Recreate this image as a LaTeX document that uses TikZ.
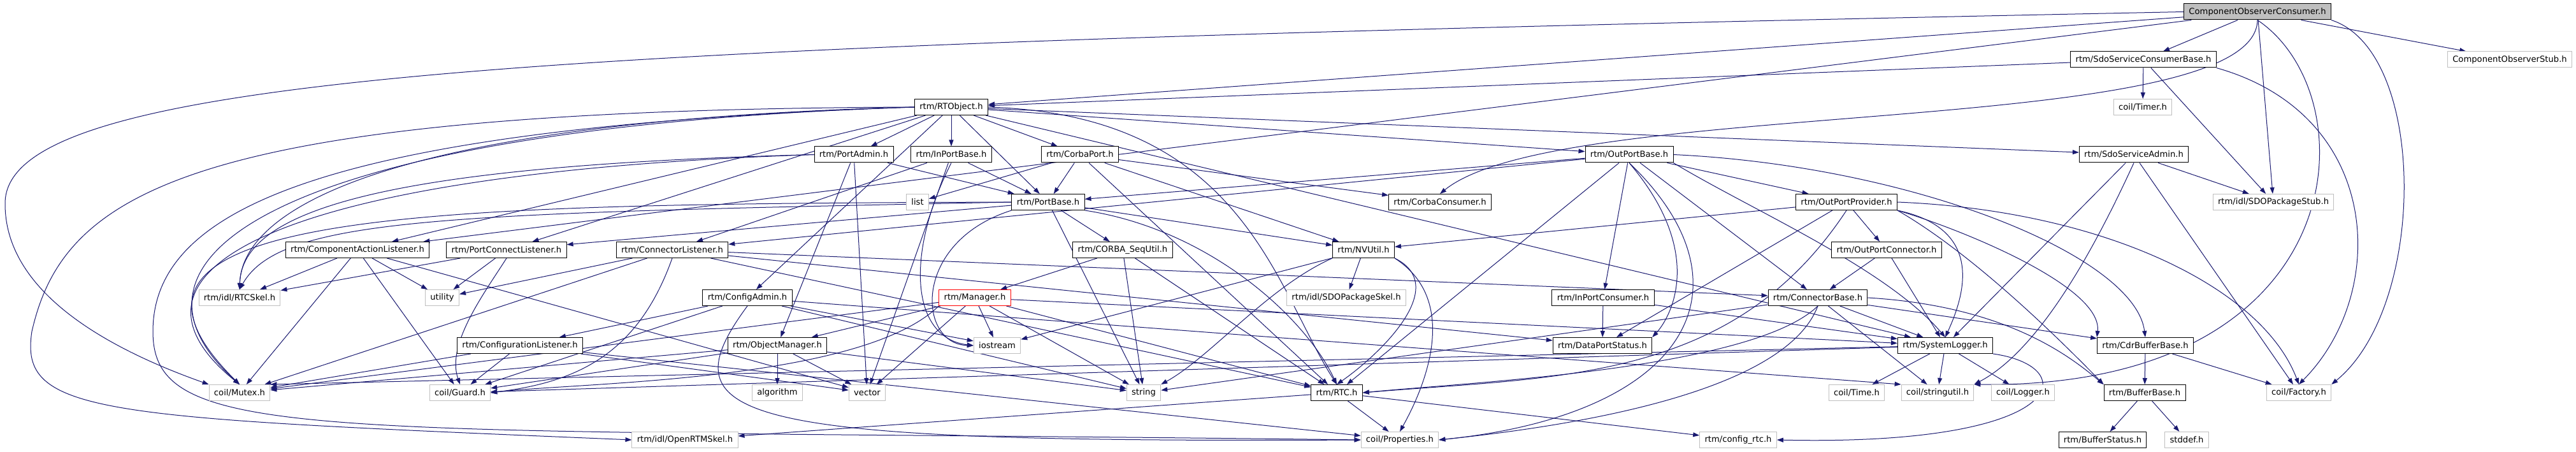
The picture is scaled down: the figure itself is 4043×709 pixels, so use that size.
\documentclass[tikz,border=0pt]{standalone}
\usepackage{fontspec}
\setmainfont{DejaVu Sans}
\usetikzlibrary{arrows.meta,backgrounds}

\definecolor{edgeblue}{HTML}{191970}
\definecolor{extgray}{HTML}{BFBFBF}

\tikzset{
  hdr/.style={draw=black, fill=white, line width=0.75pt, minimum height=18.75pt,
    inner xsep=5.85pt, inner ysep=0pt, font=\fontsize{9.87pt}{11pt}\selectfont},
  ext/.style={hdr, draw=extgray},
  dep/.style={draw=edgeblue, line width=0.75pt, -{Triangle[length=7.5pt,width=5.25pt]}},
}

\begin{document}
\begin{tikzpicture}[x=0.75pt,y=-0.75pt]

  % row 0 - 2
  \node[hdr, fill=extgray] (cobs) at (3543,18.5) {ComponentObserverConsumer.h};
  \node[hdr] (scbase) at (3364,93.5) {rtm/SdoServiceConsumerBase.h};
  \node[ext] (stub) at (3939,93.5) {ComponentObserverStub.h};
  \node[hdr] (rtobj) at (1493,168) {rtm/RTObject.h};
  \node[ext] (timer) at (3363,168) {coil/Timer.h};

  % row 3 - 4
  \node[hdr] (portadmin) at (1340,242.5) {rtm/PortAdmin.h};
  \node[hdr] (inportbase) at (1493,242.5) {rtm/InPortBase.h};
  \node[hdr] (corbaport) at (1695,242.5) {rtm/CorbaPort.h};
  \node[hdr] (outportbase) at (2557,242.5) {rtm/OutPortBase.h};
  \node[hdr] (sdoadmin) at (3349,242.5) {rtm/SdoServiceAdmin.h};
  \node[ext] (list) at (1440,317) {list};
  \node[hdr] (portbase) at (1645,317) {rtm/PortBase.h};
  \node[hdr] (corbacons) at (2260,317) {rtm/CorbaConsumer.h};
  \node[hdr] (outprov) at (2898,317) {rtm/OutPortProvider.h};
  \node[ext] (sdostub) at (3568,317) {rtm/idl/SDOPackageStub.h};

  % row 5 - 6
  \node[hdr] (cal) at (561,392) {rtm/ComponentActionListener.h};
  \node[hdr] (pcl) at (795,392) {rtm/PortConnectListener.h};
  \node[hdr] (connlis) at (1055,392) {rtm/ConnectorListener.h};
  \node[hdr] (sequtil) at (1762,392) {rtm/CORBA\_SeqUtil.h};
  \node[hdr] (nvutil) at (2140,392) {rtm/NVUtil.h};
  \node[hdr] (outconn) at (2961,392) {rtm/OutPortConnector.h};
  \node[ext] (rtcskel) at (376,467) {rtm/idl/RTCSkel.h};
  \node[ext] (utility) at (694,467) {utility};
  \node[hdr] (cfgadmin) at (1173,467) {rtm/ConfigAdmin.h};
  \node[hdr, draw=red] (manager) at (1530,467) {rtm/Manager.h};
  \node[ext] (sdoskel) at (2113,467) {rtm/idl/SDOPackageSkel.h};
  \node[hdr] (inconsumer) at (2516,467) {rtm/InPortConsumer.h};
  \node[hdr] (connbase) at (2853,467) {rtm/ConnectorBase.h};

  % row 7
  \node[hdr] (cfglis) at (816,542) {rtm/ConfigurationListener.h};
  \node[hdr] (objmgr) at (1220,542) {rtm/ObjectManager.h};
  \node[ext] (iostream) at (1565,542) {iostream};
  \node[hdr] (dpstatus) at (2515,542) {rtm/DataPortStatus.h};
  \node[hdr] (syslog) at (3053,542) {rtm/SystemLogger.h};
  \node[hdr] (cdrbuf) at (3367,542) {rtm/CdrBufferBase.h};

  % row 8 - 9
  \node[ext] (mutex) at (376,616) {coil/Mutex.h};
  \node[ext] (guard) at (722,616) {coil/Guard.h};
  \node[ext] (algorithm) at (1220,616) {algorithm};
  \node[ext] (vector) at (1361,616) {vector};
  \node[ext] (string) at (1795,616) {string};
  \node[hdr] (rtc) at (2098,616) {rtm/RTC.h};
  \node[ext] (time) at (2914,616) {coil/Time.h};
  \node[ext] (strutil) at (3041,616) {coil/stringutil.h};
  \node[ext] (logger) at (3175,616) {coil/Logger.h};
  \node[hdr] (bufbase) at (3366,616) {rtm/BufferBase.h};
  \node[ext] (factory) at (3608,616) {coil/Factory.h};
  \node[ext] (openrtm) at (1075,690) {rtm/idl/OpenRTMSkel.h};
  \node[ext] (props) at (2197,690) {coil/Properties.h};
  \node[ext] (cfgrtc) at (2728,690) {rtm/config\_rtc.h};
  \node[hdr] (bufstatus) at (3300,690) {rtm/BufferStatus.h};
  \node[ext] (stddef) at (3432,690) {stddef.h};

  % bends of the long edges on the left
  \coordinate (lftA) at (8,320);
  \coordinate (lftB) at (50,520);
  \coordinate (lftC) at (240,520);

  \begin{pgfonlayer}{background}
    \path[use as bounding box, fill=white] (0,0) rectangle (4043,709);

    % straight includes
    \foreach \t in {scbase,sdostub,stub,rtobj,cal} \draw[dep] (cobs) -- (\t);
    \foreach \t in {timer,sdostub,rtobj} \draw[dep] (scbase) -- (\t);
    \foreach \t in {portadmin,inportbase,corbaport,portbase,outportbase,sdoadmin,cfgadmin,cal,pcl,syslog}
      \draw[dep] (rtobj) -- (\t);
    \foreach \t in {portbase,objmgr,vector} \draw[dep] (portadmin) -- (\t);
    \foreach \t in {portbase,connlis,vector} \draw[dep] (inportbase) -- (\t);
    \foreach \t in {portbase,list,corbacons,nvutil,rtc} \draw[dep] (corbaport) -- (\t);
    \foreach \t in {portbase,inconsumer,outprov,connbase,rtc,connlis} \draw[dep] (outportbase) -- (\t);
    \foreach \t in {sdostub,factory,syslog} \draw[dep] (sdoadmin) -- (\t);
    \foreach \t in {sequtil,nvutil,pcl,string} \draw[dep] (portbase) -- (\t);
    \foreach \t in {nvutil,outconn,dpstatus} \draw[dep] (outprov) -- (\t);
    \foreach \t in {rtcskel,utility,mutex,guard,vector} \draw[dep] (cal) -- (\t);
    \foreach \t in {rtcskel,utility} \draw[dep] (pcl) -- (\t);
    \foreach \t in {utility,mutex,connbase,dpstatus,rtc} \draw[dep] (connlis) -- (\t);
    \foreach \t in {manager,rtc,string} \draw[dep] (sequtil) -- (\t);
    \foreach \t in {sdoskel,iostream} \draw[dep] (nvutil) -- (\t);
    \foreach \t in {connbase,syslog} \draw[dep] (outconn) -- (\t);
    \foreach \t in {cfglis,string,guard,iostream} \draw[dep] (cfgadmin) -- (\t);
    \draw[dep] (cfgadmin) -- (strutil.north west);
    \foreach \t in {iostream,vector,string,mutex,objmgr,syslog,rtc} \draw[dep] (manager) -- (\t);
    \foreach \t in {dpstatus,syslog} \draw[dep] (inconsumer) -- (\t);
    \foreach \t in {syslog,strutil,cdrbuf,string} \draw[dep] (connbase) -- (\t);
    \foreach \t in {guard,mutex,vector,props} \draw[dep] (cfglis) -- (\t);
    \foreach \t in {algorithm,vector,string,mutex,guard} \draw[dep] (objmgr) -- (\t);
    \foreach \t in {time,strutil,logger,guard} \draw[dep] (syslog) -- (\t);
    \draw[dep] (syslog) -- (mutex.north east);
    \foreach \t in {bufbase,factory} \draw[dep] (cdrbuf) -- (\t);
    \foreach \t in {props,openrtm,cfgrtc} \draw[dep] (rtc) -- (\t);
    \foreach \t in {bufstatus,stddef} \draw[dep] (bufbase) -- (\t);

    % curved includes
    \draw[dep] (cobs.west) .. controls (900,70) and (5,110) .. (lftA)
      .. controls (8,450) and (150,540) .. (mutex.north west);
    \draw[dep] (cobs.south) .. controls (3540,220) and (2450,150) .. (corbacons.north);
    \draw[dep] (cobs.south) .. controls (3720,150) and (3700,610) .. (strutil.north east);
    \draw[dep] (cobs.south east) .. controls (3810,80) and (3810,480) .. (factory.north east);
    \draw[dep] (scbase.south east) .. controls (3740,180) and (3750,460) .. (factory.north);
    \draw[dep] (rtobj.west) .. controls (300,172) and (100,300) .. (lftB)
      .. controls (30,650) and (150,655) .. (openrtm.west);
    \draw[dep] (rtobj.west) .. controls (500,200) and (240,330) .. (lftC)
      .. controls (240,700) and (500,670) .. (props.west);
    \draw[dep] (rtobj.west) .. controls (600,190) and (380,330) .. (rtcskel.north);
    \draw[dep] (rtobj.west) .. controls (450,200) and (150,400) .. (mutex.north);
    \draw[dep] (rtobj.east) .. controls (1950,180) and (2000,450) .. (rtc.north);
    \draw[dep] (portadmin.west) .. controls (600,260) and (380,330) .. (rtcskel.north);
    \draw[dep] (portadmin.west) .. controls (450,270) and (150,420) .. (mutex.north);
    \draw[dep] (portbase.west) .. controls (700,335) and (440,340) .. (rtcskel.north);
    \draw[dep] (portbase.west) .. controls (650,320) and (100,330) .. (mutex.north);
    \draw[dep] (portbase.south east) .. controls (1900,360) and (2050,500) .. (rtc.north);
    \draw[dep] (inportbase.south) .. controls (1420,400) and (1430,530) .. (iostream.west);
    \draw[dep] (portbase.south west) .. controls (1430,380) and (1440,540) .. (iostream.west);
    \draw[dep] (outportbase.south) .. controls (2680,400) and (2620,500) .. (dpstatus.north east);
    \draw[dep] (outportbase.south) .. controls (2760,450) and (2650,650) .. (props.east);
    \draw[dep] (outportbase.south east) .. controls (2750,330) and (2960,420) .. (syslog.north);
    \draw[dep] (outportbase.east) .. controls (3000,260) and (3350,400) .. (cdrbuf.north);
    \draw[dep] (outprov.south) .. controls (2720,600) and (2450,590) .. (rtc.east);
    \draw[dep] (outprov.south east) .. controls (3120,360) and (3080,470) .. (syslog.north);
    \draw[dep] (outprov.south east) .. controls (3100,400) and (3240,540) .. (bufbase.north west);
    \draw[dep] (outprov.south east) .. controls (3080,360) and (3300,450) .. (cdrbuf.north west);
    \draw[dep] (outprov.east) .. controls (3300,330) and (3550,450) .. (factory.north);
    \draw[dep] (sdoadmin.south) .. controls (3260,450) and (3180,560) .. (strutil.north east);
    \draw[dep] (pcl.south) .. controls (760,460) and (700,540) .. (guard.north);
    \draw[dep] (connlis.south) .. controls (1000,560) and (900,600) .. (guard.east);
    \draw[dep] (manager.south west) .. controls (1350,600) and (900,600) .. (guard.east);
    \draw[dep] (cfgadmin.south) .. controls (1040,660) and (1150,695) .. (props.west);
    \draw[dep] (connbase.south) .. controls (2800,620) and (2450,670) .. (props.east);
    \draw[dep] (connbase.south) .. controls (2750,580) and (2300,600) .. (rtc.east);
    \draw[dep] (connbase.east) .. controls (3150,480) and (3250,560) .. (bufbase.north west);
    \draw[dep] (syslog.south east) .. controls (3270,575) and (3250,700) .. (cfgrtc.east);
    \draw[dep] (nvutil.south west) .. controls (1990,450) and (1900,560) .. (string.north east);
    \draw[dep] (nvutil.south east) .. controls (2280,450) and (2160,560) .. (rtc.north);
    \draw[dep] (nvutil.south east) .. controls (2290,470) and (2240,600) .. (props.north);
  \end{pgfonlayer}

\end{tikzpicture}
\end{document}
